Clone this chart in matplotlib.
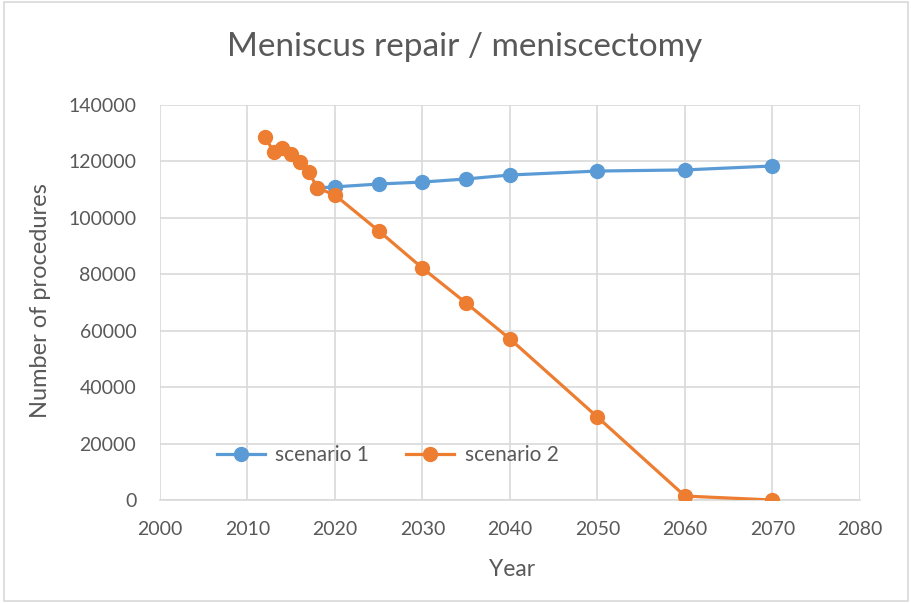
import matplotlib
matplotlib.use("Agg")
from matplotlib import pyplot as plt
from matplotlib.patches import Rectangle

# data
years_s1 = [2018, 2020, 2025, 2030, 2035, 2040, 2050, 2060, 2070]
scenario_1 = [110600, 111000, 112000, 112700, 113800, 115200, 116600, 117000, 118400]

years_s2 = [2012, 2013, 2014, 2015, 2016, 2017, 2018, 2020, 2025, 2030, 2035, 2040, 2050, 2060, 2070]
scenario_2 = [128700, 123400, 124800, 122600, 119800, 116300, 110600, 108100, 95400,
              82200, 69800, 57100, 29400, 1400, 0]

text_col = "#595959"
grid_col = "#D9D9D9"
plt.rcParams["font.family"] = ["Lato", "DejaVu Sans"]

fig = plt.figure(figsize=(9.12, 6.03), dpi=100)
ax = fig.add_axes([0.1754, 0.1708, 0.7675, 0.655])

# chart border
fig.patches.append(Rectangle((0.004, 0.004), 0.992, 0.992, transform=fig.transFigure,
                             fill=False, edgecolor=grid_col, linewidth=1.2))

ax.plot(years_s1, scenario_1, color="#5B9BD5", linewidth=2.3, marker="o",
        markersize=10, label="scenario 1", zorder=3)
ax.plot(years_s2, scenario_2, color="#ED7D31", linewidth=2.3, marker="o",
        markersize=10, label="scenario 2", zorder=4)

ax.set_xlim(2000, 2080)
ax.set_ylim(0, 140000)
ax.set_xticks(range(2000, 2081, 10))
ax.set_yticks(range(0, 140001, 20000))
ax.grid(True, color=grid_col, linewidth=1.2)
ax.set_axisbelow(True)
for s in ["top", "right", "left"]:
    ax.spines[s].set_visible(False)
ax.spines["bottom"].set_color(grid_col)
ax.spines["bottom"].set_linewidth(1.2)
ax.tick_params(length=0, colors=text_col, labelsize=14)
ax.tick_params(axis="y", pad=17)
ax.tick_params(axis="x", pad=15)

fig.text(465 / 912, 1 - 47 / 603, "Meniscus repair / meniscectomy", fontsize=24,
         color=text_col, ha="center", va="center")
ax.set_xlabel("Year", fontsize=16.5, color=text_col)
ax.set_ylabel("Number of procedures", fontsize=17, color=text_col)
ax.xaxis.set_label_coords(0.503, -0.177)
ax.yaxis.set_label_coords(-0.171, 0.506)
ax.xaxis.label.set_va("center")
ax.yaxis.label.set_va("center")

ax.legend(loc="center left", bbox_to_anchor=(0.081, 0.114), ncol=2, frameon=False,
          fontsize=15, labelcolor=text_col, handlelength=2.3, handletextpad=0.5,
          columnspacing=1.8, borderpad=0, borderaxespad=0)

plt.savefig("out.png")
